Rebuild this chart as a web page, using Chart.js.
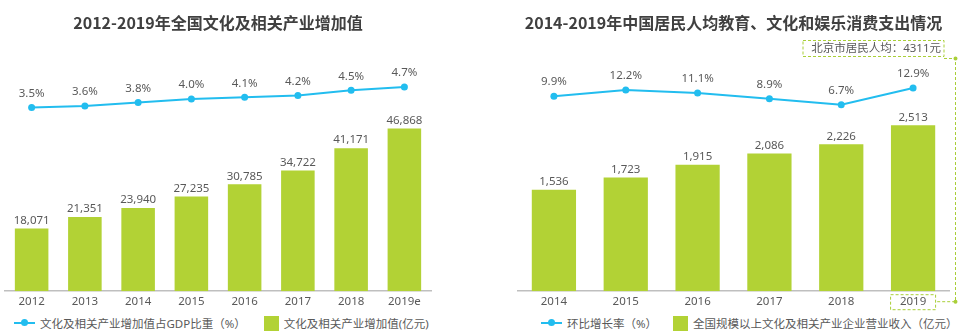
<!DOCTYPE html>
<html>
<head>
<meta charset="utf-8">
<script src="https://cdn.jsdelivr.net/npm/chart.js@4.4.1/dist/chart.umd.min.js"></script>
<style>
  body { margin: 0; background: #fff; }
  #wrap { position: relative; width: 976px; height: 334px; overflow: hidden; font-family: "Noto Sans", "Noto Sans CJK SC", sans-serif; }
  canvas { position: absolute; top: 0; }
  .legend { position: absolute; top: 315px; display: flex; align-items: center; font-size: 11.5px; color: #595959; white-space: nowrap; font-family: "Noto Sans", "Noto Sans CJK SC", sans-serif; }
  .legend .item { display: flex; align-items: center; }
  .legend .lineIcon { position: relative; width: 21px; height: 2px; background: #22bdef; margin-right: 5px; }
  .legend .lineIcon::after { content: ""; position: absolute; left: 7px; top: -3px; width: 7px; height: 7px; border-radius: 50%; background: #22bdef; }
  .legend .boxIcon { width: 15px; height: 15px; background: #b2d235; margin-right: 5px; }
</style>
</head>
<body>
<div id="wrap">
  <canvas id="leftChart" width="488" height="313" style="left:0"></canvas>
  <canvas id="rightChart" width="488" height="313" style="left:488px"></canvas>
  <div class="legend" style="left:14px">
    <div class="item"><span class="lineIcon"></span><span id="leftLineLabel"></span></div>
    <div class="item" style="margin-left:18px"><span class="boxIcon"></span><span id="leftBarLabel"></span></div>
  </div>
  <div class="legend" style="left:541px">
    <div class="item"><span class="lineIcon"></span><span id="rightLineLabel"></span></div>
    <div class="item" style="margin-left:16px"><span class="boxIcon"></span><span id="rightBarLabel"></span></div>
  </div>
</div>
<script>
// 2012-2019 value added of the culture industry
var leftYears = ['2012', '2013', '2014', '2015', '2016', '2017', '2018', '2019e'];
var leftValues = [18071, 21351, 23940, 27235, 30785, 34722, 41171, 46868];
var leftShare = [3.5, 3.6, 3.8, 4.0, 4.1, 4.2, 4.5, 4.7];
var leftTitle = '2012-2019年全国文化及相关产业增加值';
var leftLineName = '文化及相关产业增加值占GDP比重（%）';
var leftBarName = '文化及相关产业增加值(亿元)';

// 2014-2019 per-capita spending on education, culture and entertainment
var rightYears = ['2014', '2015', '2016', '2017', '2018', '2019'];
var rightValues = [1536, 1723, 1915, 2086, 2226, 2513];
var rightGrowth = [9.9, 12.2, 11.1, 8.9, 6.7, 12.9];
var rightTitle = '2014-2019年中国居民人均教育、文化和娱乐消费支出情况';
var rightLineName = '环比增长率（%）';
var rightBarName = '全国规模以上文化及相关产业企业营业收入（亿元）';
var beijingNote = '北京市居民人均：4311元';

var GREEN = '#b2d235';
var CYAN = '#22bdef';
var TEXT = '#595959';
var FONT = '"Noto Sans", "Noto Sans CJK SC", sans-serif';

document.getElementById('leftLineLabel').textContent = leftLineName;
document.getElementById('leftBarLabel').textContent = leftBarName;
document.getElementById('rightLineLabel').textContent = rightLineName;
document.getElementById('rightBarLabel').textContent = rightBarName;

// value labels above bars and points
var valueLabels = {
    id: 'valueLabels',
    afterDatasetsDraw: function (chart) {
        var ctx = chart.ctx;
        ctx.save();
        ctx.font = '11.5px ' + FONT;
        ctx.fillStyle = TEXT;
        ctx.textAlign = 'center';
        ctx.textBaseline = 'middle';
        chart.data.datasets.forEach(function (ds, i) {
            var meta = chart.getDatasetMeta(i);
            meta.data.forEach(function (el, j) {
                var v = ds.data[j];
                if (ds.type === 'line') {
                    ctx.fillText(v.toFixed(1) + '%', el.x, el.y - 14);
                } else {
                    ctx.fillText(v.toLocaleString('en-US'), el.x, el.y - 8);
                }
            });
        });
        ctx.restore();
    }
};

// dashed callout linking the 2019 tick to the Beijing note
var beijingCallout = {
    id: 'beijingCallout',
    afterDraw: function (chart) {
        var ctx = chart.ctx;
        var xs = chart.scales.x;
        var cx = xs.getPixelForValue(rightYears.length - 1);
        var bottom = chart.chartArea.bottom;
        ctx.save();
        ctx.strokeStyle = '#a9cf38';
        ctx.fillStyle = '#a9cf38';
        ctx.lineWidth = 1;
        ctx.setLineDash([3, 2]);
        // note box
        ctx.strokeRect(315, 40.5, 141, 16);
        // box around the 2019 tick label
        ctx.strokeRect(cx - 22.5, bottom + 3.5, 45, 15);
        // connector
        ctx.beginPath();
        ctx.moveTo(456, 58.5);
        ctx.lineTo(467.5, 58.5);
        ctx.lineTo(467.5, bottom + 10.5);
        ctx.lineTo(cx + 22.5, bottom + 10.5);
        ctx.stroke();
        ctx.setLineDash([]);
        ctx.beginPath();
        ctx.arc(467.5, 58.5, 2, 0, Math.PI * 2);
        ctx.arc(467.5, bottom + 10.5, 2, 0, Math.PI * 2);
        ctx.fill();
        ctx.font = '11.5px ' + FONT;
        ctx.fillStyle = TEXT;
        ctx.textAlign = 'right';
        ctx.textBaseline = 'middle';
        ctx.fillText(beijingNote, 453, 48.5);
        ctx.restore();
    }
};

function makeChart(id, cfg) {
    var ctx = document.getElementById(id).getContext('2d');
    return new Chart(ctx, {
        type: 'bar',
        data: {
            labels: cfg.labels,
            datasets: [{
                type: 'line',
                label: cfg.lineName,
                data: cfg.line,
                yAxisID: 'y1',
                borderColor: CYAN,
                backgroundColor: CYAN,
                borderWidth: 2,
                pointRadius: 3.5,
                pointHoverRadius: 3.5,
                pointBorderWidth: 0,
                tension: 0,
                order: 0
            }, {
                type: 'bar',
                label: cfg.barName,
                data: cfg.bars,
                yAxisID: 'y',
                backgroundColor: GREEN,
                barPercentage: cfg.barPct,
                categoryPercentage: 1,
                order: 1
            }]
        },
        options: {
            responsive: false,
            animation: false,
            layout: { padding: { left: cfg.padLeft, right: cfg.padRight, top: 0, bottom: 0 } },
            plugins: {
                legend: { display: false },
                tooltip: { enabled: false },
                title: {
                    display: true,
                    text: cfg.title,
                    color: '#404040',
                    font: { family: '"Noto Sans CJK SC", sans-serif', size: 16, weight: 'bold' },
                    padding: { top: 13, bottom: 28 }
                }
            },
            scales: {
                x: {
                    grid: { display: false, drawTicks: false },
                    border: { display: true, color: '#bfbfbf', width: 1.5 },
                    ticks: { color: TEXT, font: { family: FONT, size: 11.5 }, padding: 4 }
                },
                y: { display: false, min: 0, max: cfg.barMax },
                y1: { display: false, min: cfg.lineMin, max: cfg.lineMax }
            }
        },
        plugins: cfg.plugins
    });
}

var leftChart = makeChart('leftChart', {
    labels: leftYears,
    bars: leftValues,
    line: leftShare,
    title: leftTitle,
    lineName: leftLineName,
    barName: leftBarName,
    barPct: 0.63,
    padLeft: 5,
    padRight: 57,
    barMax: 66500,
    lineMin: -7.15,
    lineMax: 6.25,
    plugins: [valueLabels]
});

var rightChart = makeChart('rightChart', {
    labels: rightYears,
    bars: rightValues,
    line: rightGrowth,
    title: rightTitle,
    lineName: rightLineName,
    barName: rightBarName,
    barPct: 0.616,
    padLeft: 30,
    padRight: 27,
    barMax: 3500,
    lineMin: -62.3,
    lineMax: 23.2,
    plugins: [valueLabels, beijingCallout]
});
</script>
</body>
</html>
